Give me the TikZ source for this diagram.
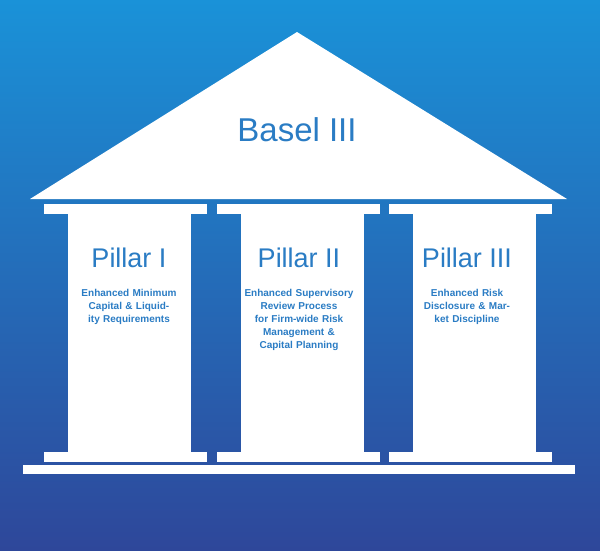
\documentclass[tikz,border=0pt]{standalone}
\usepackage{fontspec}
\setmainfont{Liberation Sans}
\definecolor{bgtop}{HTML}{1A92D8}
\definecolor{bgbot}{HTML}{2E479A}
\definecolor{txt}{HTML}{2A7CC4}
\begin{document}
\begin{tikzpicture}[x=1pt,y=-1pt,
  part/.style={fill=white,draw=none},
  big/.style={text=txt,font=\fontsize{27}{30}\selectfont},
  small/.style={text=txt,font=\bfseries\fontsize{10}{13}\selectfont,align=center,text width=110pt}]
\shade[top color=bgtop,bottom color=bgbot] (0,0) rectangle (600,550);
\useasboundingbox (0,0) rectangle (600,550);
\fill[part] (297,32) -- (567,199) -- (30,199) -- cycle;
\node[text=txt,font=\fontsize{33}{36}\selectfont] (basel) at (297,130) {Basel III};
\foreach \x/\n in {44/a,217/b,389/c}{
  \fill[part] (\x,204) rectangle ++(163,10);
  \fill[part] (\x+24,214) rectangle ++(123,238);
  \fill[part] (\x,452) rectangle ++(163,10);
}
\fill[part] (23,465) rectangle (575,474);
\node[big] (p1) at (129,258) {Pillar I};
\node[big] (p2) at (299,258) {Pillar II};
\node[big] (p3) at (467,258) {Pillar III};
\node[small,anchor=north] (t1) at (129,286) {Enhanced Minimum Capital \& Liquidity Requirements};
\node[small,anchor=north] (t2) at (299,286) {Enhanced Supervisory Review Process for Firm-wide Risk Management \& Capital Planning};
\node[small,anchor=north] (t3) at (467,286) {Enhanced Risk Disclosure \& Market Discipline};
\end{tikzpicture}
\end{document}
